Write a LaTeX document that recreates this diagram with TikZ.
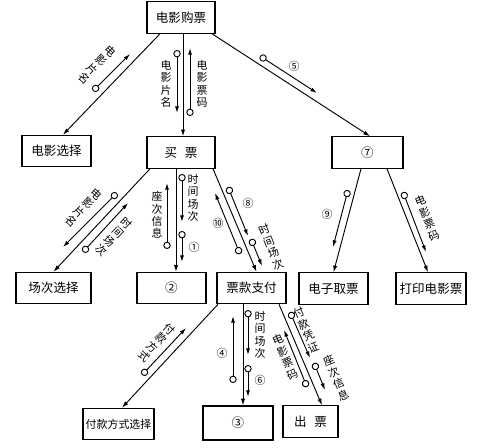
\documentclass[tikz,border=0pt]{standalone}
\usepackage{fontspec}
\setmainfont{Noto Sans CJK SC}
\usetikzlibrary{arrows.meta,calc}

\newcommand{\boxfont}{\fontsize{9.4}{11}\selectfont}
\newcommand{\lblfont}{\fontsize{8.2}{9.3}\selectfont}

\begin{document}
\begin{tikzpicture}[x=0.75pt,y=-0.75pt,>={Latex[length=5pt,width=3.2pt]},
   mod/.style={draw,line width=0.9pt,minimum width=51.75pt,minimum height=23.5pt,inner sep=1pt,font=\boxfont},
   flow/.style={->,line width=0.7pt},
   couple/.style={{Circle[open,length=5.5pt,width=5.5pt]}-{Latex[length=5pt,width=3pt]},line width=0.7pt},
   lbl/.style={font=\lblfont,align=center,inner sep=0pt}]
  \useasboundingbox (0,0) rectangle (481,447);
  % modules
  \node[mod,minimum width=51pt] (buy) at (181,17.5) {电影购票};
  \node[mod] (sel) at (56.5,151) {电影选择};
  \node[mod,minimum width=51pt] (mai) at (181,152.5) {买\hspace{0.6em}票};
  \node[mod,minimum width=53.25pt] (q7) at (367.5,152.5) {⑦};
  \node[mod,minimum width=56.25pt] (ccxz) at (53.5,288) {场次选择};
  \node[mod] (q2) at (171.5,288) {②};
  \node[mod] (pay) at (251.5,288) {票款支付};
  \node[mod] (ele) at (333.5,288.5) {电子取票};
  \node[mod,minimum width=52.5pt] (prt) at (431,288.5) {打印电影票};
  \node[mod,minimum width=53.25pt,font=\fontsize{8.2}{10}\selectfont] (fkfs) at (118.5,424) {付款方式选择};
  \node[mod,minimum width=52.5pt,minimum height=25.5pt] (q3) at (238,423) {③};
  \node[mod,minimum width=41.25pt] (cp) at (310.5,421.5) {出\hspace{0.6em}票};
  % calls
  \draw[flow] ($(buy.south)+(-21,0)$) -- ($(sel.north)+(6.5,0)$);
  \draw[flow] ($(buy.south)+(2,0)$) coordinate (b1) -- (b1 |- mai.north);
  \draw[flow] ($(buy.south)+(31,0)$) -- ($(q7.north)+(2.5,0)$);
  \draw[flow] ($(mai.south)+(-31,0)$) -- (ccxz.north);
  \draw[flow] ($(mai.south)+(-5,0)$) coordinate (m1) -- (m1 |- q2.north);
  \draw[flow] ($(mai.south)+(32,0)$) -- ($(pay.north)+(5,0)$);
  \draw[flow] ($(q7.south)+(-6.5,0)$) -- (ele.north);
  \draw[flow] ($(q7.south)+(19.5,0)$) -- ($(prt.north)+(-3,0)$);
  \draw[flow] ($(pay.south)+(-33.5,0)$) -- ($(fkfs.north)+(3.5,0)$);
  \draw[flow] ($(pay.south)+(-8.5,0)$) coordinate (p1) -- (p1 |- q3.north);
  \draw[flow] ($(pay.south)+(27.5,0)$) -- ($(cp.north)+(11.5,0)$);
  % data couples
  \draw[couple] (93,91) -- (130,54);
  \node[lbl,rotate=-44] (l1) at (97,65) {电\\影\\片\\名};
  \draw[couple] (177,50) -- (177,113);
  \node[lbl] (l2) at (166,84) {电\\影\\片\\名};
  \draw[couple] (190,116) -- (190,48);
  \node[lbl] (l3) at (202,84) {电\\影\\票\\码};
  \draw[couple] (260,56) -- (317,93);
  \node[lbl] (l4) at (294,66) {⑤};
  \draw[couple] (117,193) -- (63,247);
  \node[lbl,rotate=-43] (l5) at (84,208) {电\\影\\片\\名};
  \draw[couple] (83,252) -- (128,203);
  \node[lbl,rotate=-43] (l6) at (114,237) {时\\间\\场\\次};
  \draw[couple] (167,249) -- (167,183);
  \node[lbl] (l7) at (157,215) {座\\次\\信\\息};
  \draw[couple] (182,174) -- (182,222);
  \node[lbl] (l8) at (193,198) {时\\间\\场\\次};
  \draw[couple] (182,231) -- (182,262);
  \node[lbl] (l9) at (194,247) {①};
  \draw[couple] (228,187) -- (248,236);
  \node[lbl] (l10) at (248,203) {⑧};
  \draw[couple] (251,239) -- (262,266);
  \node[lbl,rotate=22] (l11) at (271,247) {时\\间\\场\\次};
  \draw[couple] (240,254) -- (215,193);
  \node[lbl] (l12) at (218,223) {⑩};
  \draw[couple] (348,190) -- (333,247);
  \node[lbl] (l13) at (327,214) {⑨};
  \draw[couple] (403,192) -- (426,252);
  \node[lbl,rotate=21] (l14) at (427,218) {电\\影\\票\\码};
  \draw[couple] (142,375) -- (186,328);
  \node[lbl,rotate=-43] (l15) at (157,343) {付\\款\\方\\式};
  \draw[couple] (233,383) -- (233,316);
  \node[lbl] (l16) at (222,353) {④};
  \draw[couple] (248,310) -- (248,355);
  \node[lbl] (l17) at (260,335) {时\\间\\场\\次};
  \draw[couple] (248,365) -- (248,397);
  \node[lbl] (l18) at (260,380) {⑥};
  \draw[couple] (290,312) -- (310,358);
  \node[lbl,rotate=23] (l19) at (306,330) {付\\款\\凭\\证};
  \draw[couple] (314,363) -- (325,390);
  \node[lbl,rotate=23] (l20) at (336,378) {座\\次\\信\\息};
  \draw[couple] (307,387) -- (284,330);
  \node[lbl,rotate=23] (l21) at (285,357) {电\\影\\票\\码};
\end{tikzpicture}
\end{document}
